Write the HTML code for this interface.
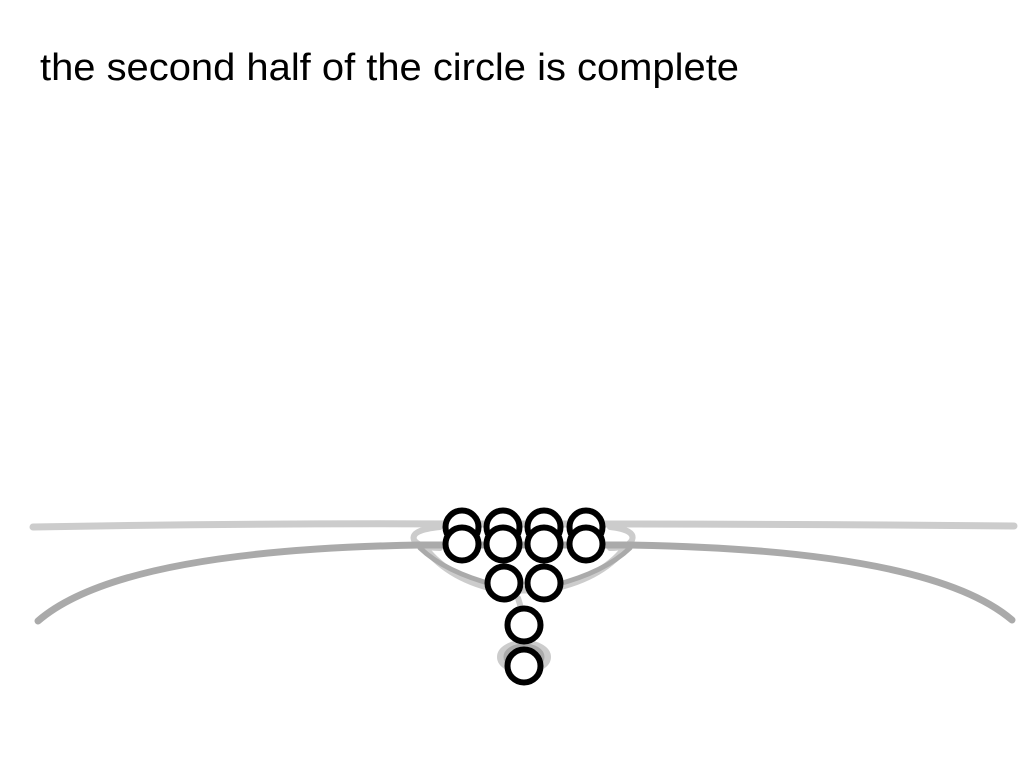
<!DOCTYPE html>
<html><head><style>html,body{margin:0;padding:0;background:#fff;}svg{display:block}</style></head>
<body>
<svg width="1024" height="768" viewBox="0 0 1024 768" xmlns="http://www.w3.org/2000/svg">
<text x="40" y="80" font-family="Liberation Sans, sans-serif" font-size="38" textLength="699" lengthAdjust="spacingAndGlyphs" fill="#000">the second half of the circle is complete</text>
<g fill="none" stroke-linecap="round">
<path d="M33 527 Q250 523 460 524 L590 524 Q800 524 1014 526" stroke="#cccccc" stroke-width="7"/>
<path d="M440 527 Q410 530 414 540 Q420 548 440 548" stroke="#cccccc" stroke-width="6"/>
<path d="M610 527 Q636 530 632 540 Q628 548 610 548" stroke="#cccccc" stroke-width="6"/>
<path d="M425 548 Q450 580 500 590 L545 590 Q600 580 625 548" stroke="#cccccc" stroke-width="7"/>
<path d="M420 548 Q445 572 495 585 M555 585 Q605 572 630 548" stroke="#aaaaaa" stroke-width="5"/>
<path d="M38 621 Q120 550 420 545 L630 545 Q930 550 1012 620" stroke="#aaaaaa" stroke-width="7"/>
<path d="M518 598 Q522 610 524 625" stroke="#cccccc" stroke-width="6"/>
<ellipse cx="524" cy="657" rx="23" ry="13" stroke="#cccccc" stroke-width="8"/>
<ellipse cx="524" cy="657" rx="17" ry="10" stroke="#aaaaaa" stroke-width="7"/>
</g>
<g fill="#fff" stroke="#000" stroke-width="6">
<circle cx="462" cy="527" r="16.5"/><circle cx="503" cy="527" r="16.5"/><circle cx="544" cy="527" r="16.5"/><circle cx="586" cy="527" r="16.5"/>
<circle cx="462" cy="544" r="16.5"/><circle cx="503" cy="544" r="16.5"/><circle cx="544" cy="544" r="16.5"/><circle cx="586" cy="544" r="16.5"/>
<circle cx="504" cy="583" r="16.5"/><circle cx="544" cy="583" r="16.5"/>
<circle cx="524" cy="625" r="16.5"/>
<circle cx="524" cy="666" r="16.5"/>
</g>
</svg>
</body></html>
